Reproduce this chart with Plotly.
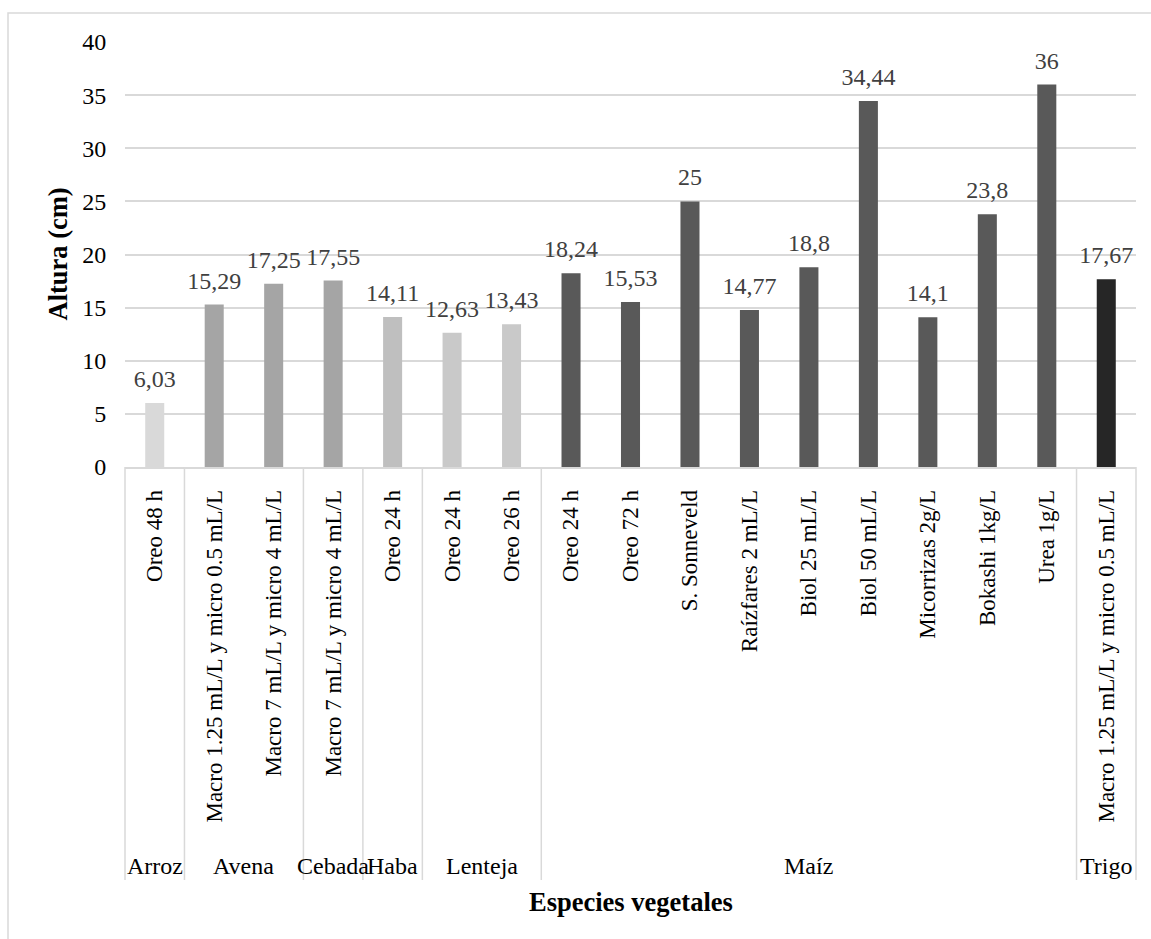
import plotly.graph_objects as go

# Species (group) and treatment (category) data
groups = ["Arroz", "Avena", "Cebada", "Haba", "Lenteja", "Maíz", "Trigo"]
group_sizes = [1, 2, 1, 1, 2, 9, 1]
group_colors = ["#d9d9d9", "#a5a5a5", "#a5a5a5", "#bfbfbf", "#c9c9c9", "#595959", "#262626"]

treatments = [
    "Oreo 48 h",
    "Macro 1.25 mL/L y micro 0.5 mL/L",
    "Macro 7 mL/L y micro 4 mL/L",
    "Macro 7 mL/L y micro 4 mL/L",
    "Oreo 24 h",
    "Oreo 24 h",
    "Oreo 26 h",
    "Oreo 24 h",
    "Oreo 72 h",
    "S. Sonneveld",
    "Raízfares 2 mL/L",
    "Biol 25 mL/L",
    "Biol 50 mL/L",
    "Micorrizas 2g/L",
    "Bokashi 1kg/L",
    "Urea 1g/L",
    "Macro 1.25 mL/L y micro 0.5 mL/L",
]
heights = [6.03, 15.29, 17.25, 17.55, 14.11, 12.63, 13.43, 18.24, 15.53,
           25, 14.77, 18.8, 34.44, 14.1, 23.8, 36, 17.67]

y_ticks = [0, 5, 10, 15, 20, 25, 30, 35, 40]

FONT = "Liberation Serif"
GRID = "#d9d9d9"

n = len(treatments)
xs = list(range(n))
bar_colors = []
for c, k in zip(group_colors, group_sizes):
    bar_colors += [c] * k

labels = [f"{v:g}".replace(".", ",") for v in heights]

# Plot geometry in pixels (used to place the outer-axis items in paper units)
W, H = 1151, 939
L, R, T, B = 125, 15, 42, 472
pw, ph = W - L - R, H - T - B


def py(pix_y):
    return (T + ph - pix_y) / ph


def px(pix_x):
    return (pix_x - L) / pw


fig = go.Figure()
fig.add_trace(go.Bar(
    x=xs, y=heights, marker=dict(color=bar_colors, line=dict(width=0)),
    hoverinfo="skip", showlegend=False,
))
# value labels above each bar
fig.add_trace(go.Scatter(
    x=xs, y=heights, mode="markers+text", text=labels,
    textposition="top center",
    textfont=dict(family=FONT, size=24, color="#404040"),
    marker=dict(size=14.4, color="rgba(0,0,0,0)"),
    hoverinfo="skip", showlegend=False, cliponaxis=False,
))

shapes = []
annotations = []
# group dividers below the axis and group names
start = 0
bounds = [0]
for g, k in zip(groups, group_sizes):
    center = start + (k - 1) / 2
    annotations.append(dict(
        x=center, xref="x", y=py(866), yref="paper", text=g, showarrow=False,
        xanchor="center", yanchor="middle",
        font=dict(family=FONT, size=24, color="#000000"),
    ))
    start += k
    bounds.append(start)
for b in bounds:
    shapes.append(dict(
        type="line", xref="paper", yref="paper", x0=b / n, x1=b / n,
        y0=0, y1=py(880), line=dict(color=GRID, width=1.5),
    ))

# chart frame
shapes.append(dict(
    type="rect", xref="paper", yref="paper", x0=px(8), x1=px(1180),
    y0=py(960), y1=py(13), line=dict(color=GRID, width=1.5),
    fillcolor="rgba(0,0,0,0)", layer="below",
))

# axis titles
annotations.append(dict(
    x=0.5, xref="paper", y=py(902), yref="paper", text="<b>Especies vegetales</b>",
    showarrow=False, xanchor="center", yanchor="middle",
    font=dict(family=FONT, size=26.5, color="#000000"),
))
annotations.append(dict(
    x=px(57), xref="paper", y=0.5, yref="paper", text="<b>Altura (cm)</b>",
    showarrow=False, xanchor="center", yanchor="middle", textangle=-90,
    font=dict(family=FONT, size=26.5, color="#000000"),
))

fig.update_layout(
    width=W, height=H,
    margin=dict(l=L, r=R, t=T, b=B, autoexpand=False),
    paper_bgcolor="white", plot_bgcolor="white",
    bargap=0.68,
    shapes=shapes, annotations=annotations,
    font=dict(family=FONT, color="#000000"),
)
fig.update_xaxes(
    range=[-0.5, n - 0.5], tickmode="array", tickvals=xs, ticktext=treatments,
    tickangle=-90, ticks="outside", ticklen=12, tickcolor="rgba(0,0,0,0)",
    tickfont=dict(family=FONT, size=23, color="#000000"),
    showgrid=False, zeroline=False, showline=True, linecolor=GRID, linewidth=1.5,
    automargin=False, fixedrange=True,
)
fig.update_yaxes(
    range=[0, 40], tickmode="array", tickvals=y_ticks,
    ticks="outside", ticklen=13, tickcolor="rgba(0,0,0,0)",
    tickfont=dict(family=FONT, size=24, color="#000000"),
    showgrid=True, gridcolor=GRID, gridwidth=1.5, zeroline=False, showline=False,
    automargin=False, fixedrange=True,
)

fig.write_html("out.html")
